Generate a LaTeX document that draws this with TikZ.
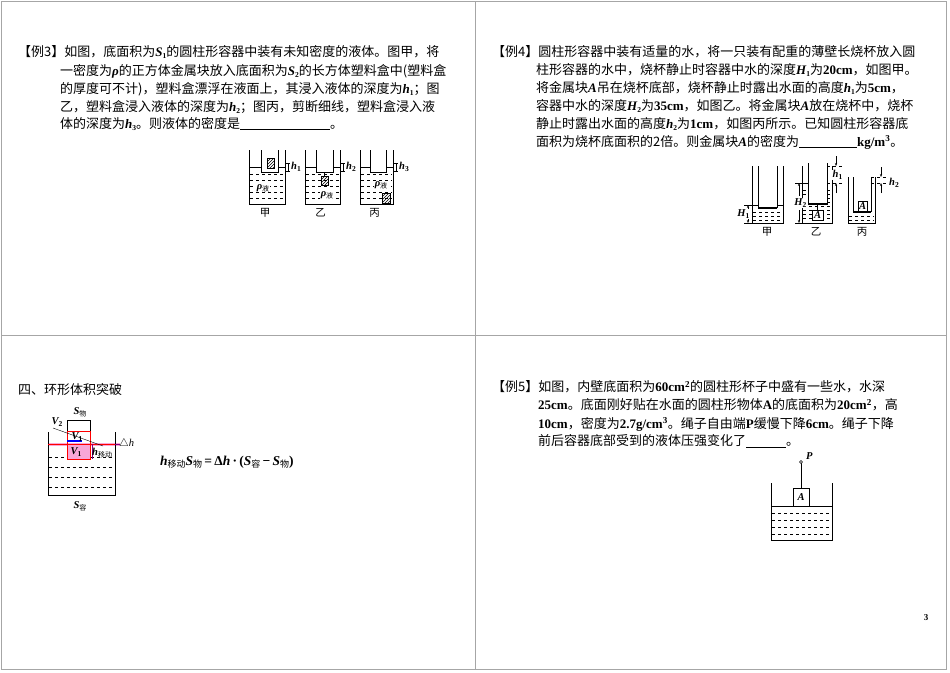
\documentclass[tikz,border=0pt]{standalone}
\usepackage{fontspec}
\setmainfont{Liberation Serif}
\newfontfamily\cjk{Noto Sans CJK SC}
\newfontfamily\tms{Liberation Serif}
\usetikzlibrary{patterns,arrows.meta}
\newcommand\vv[1]{{\tms\bfseries\itshape #1}}
\newcommand\bb[1]{{\tms\bfseries #1}}
\newcommand\sbs[1]{\raisebox{-0.35ex}{\tms\fontsize{7.5}{8}\selectfont\bfseries #1}}
\newcommand\csb[1]{\raisebox{-0.35ex}{\cjk\fontsize{7}{8}\selectfont #1}}
\newcommand\csbb[1]{\raisebox{-0.35ex}{\cjk\fontsize{9}{10}\selectfont #1}}
\tikzset{txt/.style={anchor=west,inner sep=0pt,font=\cjk\fontsize{13}{15}\selectfont},
 lab/.style={inner sep=0pt,font=\cjk\fontsize{10.5}{12}\selectfont},
 wall/.style={line width=0.7pt},
 wl/.style={dashed,line width=0.5pt},
 hat/.style={draw,pattern=north east lines}}
\begin{document}
\begin{tikzpicture}[x=1pt,y=-1pt]
\useasboundingbox (0,0) rectangle (950,672);
\fill[white] (0,0) rectangle (950,672);
\draw[gray!70] (1,1) rectangle (946,669);
\draw[gray!70] (475,1) -- (475,669) (1,335) -- (946,335);
% ---- Example 3 text
\node[txt] (t31) at (18,52) {【例3】如图，底面积为\vv{S}\sbs{1}的圆柱形容器中装有未知密度的液体。图甲，将};
\node[txt] (t32) at (60,71) {一密度为\vv{ρ}的正方体金属块放入底面积为\vv{S}\sbs{2}的长方体塑料盒中(塑料盒};
\node[txt] (t33) at (60,89) {的厚度可不计)，塑料盒漂浮在液面上，其浸入液体的深度为\vv{h}\sbs{1}；图};
\node[txt] (t34) at (60,107) {乙，塑料盒浸入液体的深度为\vv{h}\sbs{2}；图丙，剪断细线，塑料盒浸入液};
\node[txt] (t35) at (60,124) {体的深度为\vv{h}\sbs{3}。则液体的密度是\underline{\hspace{90pt}}。};
% ---- Fig 1
\foreach \xa/\xb/\bx/\by/\lb/\hn in {249/285/261/278/甲/1,305/340/316/333/乙/2,360/393/370/386/丙/3}{
 \foreach \yy in {174,180,186,192,198}{\draw[wl] (\xa+1,\yy) -- (\xb-1,\yy);}
 \draw[wall] (\xa,150) -- (\xa,204) -- (\xb,204) -- (\xb,150);
 \draw[wall] (\xa,167) -- (\bx,167) (\by,167) -- (\xb,167);
 \draw[wall,fill=white] (\bx,150) -- (\bx,172) -- (\by,172) -- (\by,150);
 \draw (\xb+1,163) -- (\xb+5,163) (\xb+1,171) -- (\xb+5,171) (\xb+3,163) -- (\xb+3,171);
 \node[lab,anchor=west] at (\xb+6,167) {\vv{h}\sbs{\hn}};
 \node[lab] at (\xa/2+\xb/2-2,213) {\lb};
}
\draw[hat] (267,158) rectangle (274,168);
\node[lab,fill=white,inner sep=0.5pt] at (263,188) {\vv{ρ}\csb{液}};
\draw (324.5,172) -- (324.5,176);
\draw[hat] (321,176) rectangle (328,185);
\node[lab,fill=white,inner sep=0.5pt] at (327,195) {\vv{ρ}\csb{液}};
\draw[hat] (382,193) rectangle (390,203);
\node[lab,fill=white,inner sep=0.5pt] at (381,185) {\vv{ρ}\csb{液}};
% ---- Example 4 text
\node[txt] (t41) at (492,52) {【例4】圆柱形容器中装有适量的水，将一只装有配重的薄壁长烧杯放入圆};
\node[txt] (t42) at (536,70) {柱形容器的水中，烧杯静止时容器中水的深度\vv{H}\sbs{1}为\bb{20cm}，如图甲。};
\node[txt] (t43) at (536,88) {将金属块\vv{A}吊在烧杯底部，烧杯静止时露出水面的高度\vv{h}\sbs{1}为\bb{5cm}，};
\node[txt] (t44) at (536,106) {容器中水的深度\vv{H}\sbs{2}为\bb{35cm}，如图乙。将金属块\vv{A}放在烧杯中，烧杯};
\node[txt] (t45) at (536,124) {静止时露出水面的高度\vv{h}\sbs{2}为\bb{1cm}，如图丙所示。已知圆柱形容器底};
\node[txt] (t46) at (536,142) {面积为烧杯底面积的2倍。则金属块\vv{A}的密度为\underline{\hspace{58pt}}\bb{kg/m\textsuperscript{3}}。};
% ---- Fig 2
% 甲
\foreach \yy in {212,216,220}{\draw[wl] (753,\yy) -- (782,\yy);}
\draw[wall] (752,166) -- (752,223) -- (783,223) -- (783,166);
\draw[wall] (758,166) -- (758,208) (777,166) -- (777,208);
\draw[line width=2pt] (758,208) -- (777,208);
\draw (744,205) -- (758,205) (777,205) -- (783,205) (744,223) -- (752,223);
\draw[-{Stealth[length=3pt]}] (748,211) -- (748,205);
\draw[-{Stealth[length=3pt]}] (748,217) -- (748,223);
\node[lab,anchor=east,fill=white,inner sep=0.5pt] at (750,214) {\vv{H}\sbs{1}};
\node[lab] at (767,232) {甲};
% 乙
\foreach \yy in {190,194,198,202,206,210,214,218}{\draw[wl] (803,\yy) -- (831,\yy);}
\draw[wall] (802,166) -- (802,223) -- (832,223) -- (832,166);
\draw[wall,fill=white] (808,163) -- (808,204) -- (827,204) -- (827,163);
\draw[line width=2pt] (808,204) -- (827,204);
\draw (817.5,204) -- (817.5,210);
\draw[fill=white] (812,210) rectangle (823,220);
\node[lab] at (817.5,215) {\vv{A}};
\draw (795,183) -- (808,183) (795,223) -- (802,223);
\draw[-{Stealth[length=3pt]}] (799,196) -- (799,183);
\draw[-{Stealth[length=3pt]}] (799,210) -- (799,223);
\node[lab,anchor=east,fill=white,inner sep=0.5pt] at (807,203) {\vv{H}\sbs{2}};
\draw[dashed] (827,166) -- (842,166) (827,183) -- (842,183);
\draw[-{Stealth[length=3pt]}] (836,156) -- (836,166);
\draw[-{Stealth[length=3pt]}] (836,193) -- (836,183);
\node[lab,anchor=west,fill=white,inner sep=0.5pt] at (832,175) {\vv{h}\sbs{1}};
\node[lab] at (816,232) {乙};
% 丙
\foreach \yy in {216,220}{\draw[wl] (849,\yy) -- (874,\yy);}
\draw[wall] (848,177) -- (848,223) -- (875,223) -- (875,177);
\draw[wall] (853,177) -- (853,212) (871,177) -- (871,212);
\draw[line width=2pt] (853,212) -- (871,212);
\draw (858,201) rectangle (867,211);
\node[lab] at (862.5,206) {\vv{A}};
\draw[dashed] (871,177) -- (888,177) (871,183) -- (888,183);
\draw[-{Stealth[length=3pt]}] (881,167) -- (881,177);
\draw[-{Stealth[length=3pt]}] (881,193) -- (881,183);
\node[lab,anchor=west] at (889,183) {\vv{h}\sbs{2}};
\node[lab] at (862,232) {丙};
% ---- Bottom left
\node[txt] (t51) at (18,390) {四、环形体积突破};
\foreach \yy in {457,467,477,487}{\draw[wl] (49,\yy) -- (114,\yy);}
\fill[magenta!35] (67,444) rectangle (90,459);
\fill[magenta!35] (48,442.5) rectangle (120,445.5);
\draw[wall] (48,432) -- (48,495) -- (115,495) -- (115,432);
\draw (67,431) -- (67,420) -- (90,420) -- (90,431);
\draw[red] (67,431) rectangle (90,459);
\draw[red,line width=0.8pt] (48,444) -- (115,444);
\draw[violet,line width=0.8pt] (115,444) -- (120,444);
\draw[blue,line width=2pt] (67,441) -- (82,441);
\draw (53,428) -- (103,446);
\draw[violet] (92,444) -- (92,459);
\node[lab] at (80,412) {\vv{S}\csb{物}};
\node[lab] at (80,506) {\vv{S}\csb{容}};
\node[lab] at (57,422) {\vv{V}\sbs{2}};
\node[lab] at (77,437) {\vv{V}\sbs{1}};
\node[lab] at (76,452) {\vv{V}\sbs{1}};
\node[lab,anchor=west] at (92,453) {\vv{h}\csb{移动}};
\node[lab,anchor=west] at (119,444) {\tms$\triangle$\textit{h}};
\node[anchor=west,inner sep=0pt,font=\cjk\fontsize{13.5}{15}\selectfont] (f1) at (160,462) {\vv{h}\csbb{移动}\vv{S}\csbb{物}\,\bb{=}\,\bb{Δ}\vv{h}\,\bb{·}\,\bb{(}\vv{S}\csbb{容}\,\bb{−}\,\vv{S}\csbb{物}\bb{)}};
% ---- Example 5
\node[txt] (t61) at (492,387) {【例5】如图，内壁底面积为\bb{60cm\textsuperscript{2}}的圆柱形杯子中盛有一些水，水深};
\node[txt] (t62) at (538,405) {\bb{25cm}。底面刚好贴在水面的圆柱形物体\bb{A}的底面积为\bb{20cm\textsuperscript{2}}，高};
\node[txt] (t63) at (538,424) {\bb{10cm}，密度为\bb{2.7g/cm\textsuperscript{3}}。绳子自由端\bb{P}缓慢下降\bb{6cm}。绳子下降};
\node[txt] (t64) at (538,441) {前后容器底部受到的液体压强变化了\underline{\hspace{40pt}}。};
\foreach \yy in {513,520,527,534}{\draw[wl] (772,\yy) -- (831,\yy);}
\draw[wall] (771,483) -- (771,540) -- (832,540) -- (832,483);
\draw[wall] (771,506) -- (832,506);
\draw[wall,fill=white] (793,488) rectangle (809,506);
\node[lab] at (801,497) {\vv{A}};
\draw (801,488) -- (801,463);
\draw[fill=white] (801,462) circle (1.5pt);
\node[lab,anchor=west] at (806,456) {\vv{P}};
\node[font=\tms\bfseries\small] (pg) at (926,618) {3};
\end{tikzpicture}
\end{document}
